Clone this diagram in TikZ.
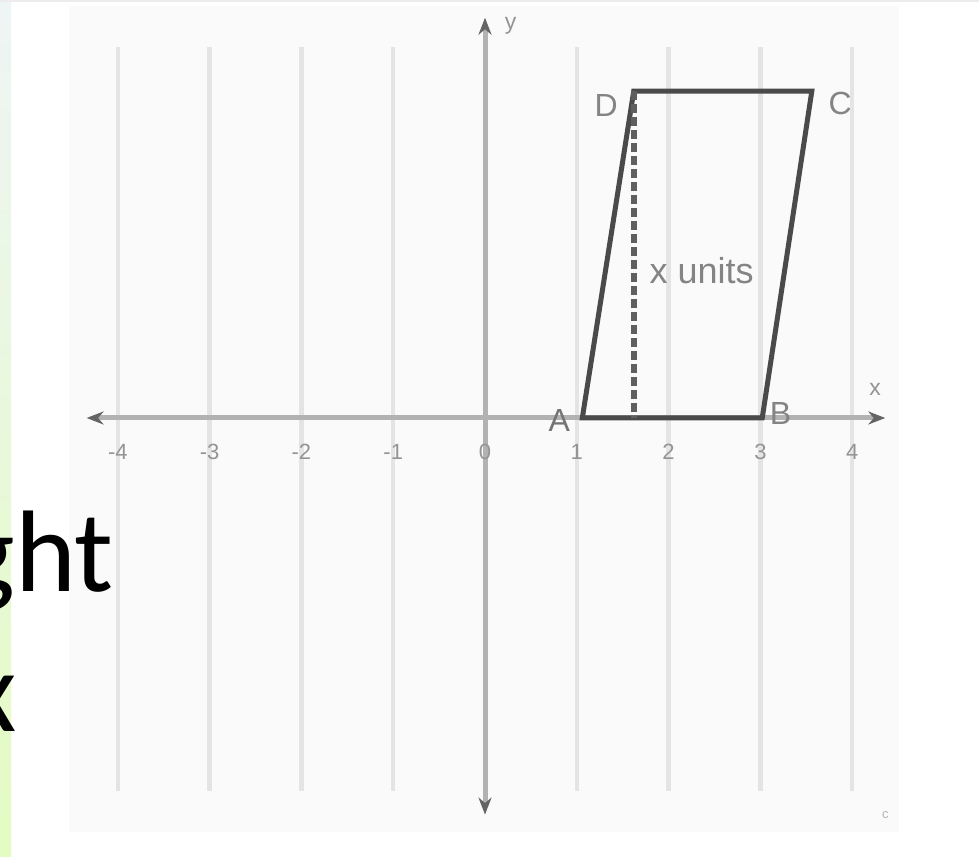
\documentclass[tikz,border=0pt]{standalone}
\usepackage{fontspec}
\setmainfont{Liberation Sans}
\newfontfamily\slidefont{Carlito}
\usepackage{tikz}
\usetikzlibrary{arrows.meta,positioning}
\definecolor{gdPanel}{RGB}{250,250,250}
\definecolor{gdRule}{RGB}{236,236,236}
\definecolor{gdGrid}{RGB}{228,228,228}
\definecolor{gdAxis}{RGB}{178,178,178}
\definecolor{gdTip}{RGB}{100,100,100}
\definecolor{gdEdge}{RGB}{74,74,74}
\definecolor{gdDash}{RGB}{95,95,95}
\definecolor{gdLabel}{RGB}{148,148,148}
\definecolor{gdVert}{RGB}{132,132,132}
\definecolor{stripTop}{RGB}{238,245,245}
\definecolor{stripBot}{RGB}{228,251,194}

\begin{document}
\begin{tikzpicture}[
  x=1pt, y=1pt,
  gridline/.style={draw=gdGrid, line width=4.5pt},
  axisline/.style={draw=gdAxis, line width=5pt,
    {Stealth[length=17pt, width=13pt, color=gdTip]}-{Stealth[length=17pt, width=13pt, color=gdTip]}},
  edge/.style={draw=gdEdge, line width=5pt, line join=miter},
  heightline/.style={draw=gdDash, line width=6pt, dash pattern=on 9pt off 4pt},
  tick/.style={text=gdLabel, inner sep=0, font=\fontsize{22}{22}\selectfont},
  vlabel/.style={text=gdVert, inner sep=0, font=\fontsize{32}{32}\selectfont},
  axlabel/.style={text=gdLabel, inner sep=0, font=\fontsize{23}{23}\selectfont},
  slidetext/.style={anchor=base east, inner sep=0, text=black, font=\slidefont\fontsize{116}{141}\selectfont},
]
\useasboundingbox (0,0) rectangle (979,856);
\clip (0,0) rectangle (979,856);
\fill[white] (0,0) rectangle (979,856);
% slide edge
\shade[top color=stripTop, bottom color=stripBot] (0,0) rectangle (11,856);
\draw[gdRule, line width=1.5pt] (0,855.2) -- (979,855.2);
% panel
\fill[gdPanel] (69,24) rectangle (899,850);
\begin{scope}[shift={(485,438)}, x=91.8pt, y=91.8pt]
  % grid
  \foreach \gx in {-4,-3,-2,-1,1,2,3,4}
    \draw[gridline] (\gx,-4.06) -- (\gx,4.04);
  % axes
  \draw[axisline] (-4.34,0) -- (4.36,0);
  \draw[axisline] (0,-4.32) -- (0,4.36);
  \foreach \gx in {-4,-3,-2,-1,0,1,2,3,4}
    \node[tick] (tk\gx) at (\gx,-0.37) {\gx};
  \node[axlabel] (xlab) at (4.25,0.31) {x};
  \node[axlabel] (ylab) at (0.28,4.27) {y};
  % parallelogram
  \coordinate (A) at (1.06,0);
  \coordinate (B) at (3.02,0);
  \coordinate (C) at (3.56,3.56);
  \coordinate (D) at (1.62,3.56);
  \coordinate (Dfoot) at (D |- A);
  \draw[edge] (A) -- (B) -- (C) -- (D) -- cycle;
  \draw[heightline] (D) -- (Dfoot);
  \node[vlabel] (labD) at (1.32,3.40) {D};
  \node[vlabel] (labC) at (3.87,3.43) {C};
  \node[vlabel, text=gdTip!90] (labA) at (0.81,-0.03) {A};
  \node[vlabel] (labB) at (3.22,0.05) {B};
  \node[vlabel, font=\fontsize{36}{36}\selectfont] (units) at (2.36,1.61) {x units};
  \node[tick, text=gdLabel!70, font=\fontsize{13}{13}\selectfont] (mark) at (4.36,-4.33) {c};
\end{scope}
% slide text
\node[slidetext] (word) at (114,264) {ght};
\node[slidetext] (letter) at (17,124) {x};
\end{tikzpicture}
\end{document}
